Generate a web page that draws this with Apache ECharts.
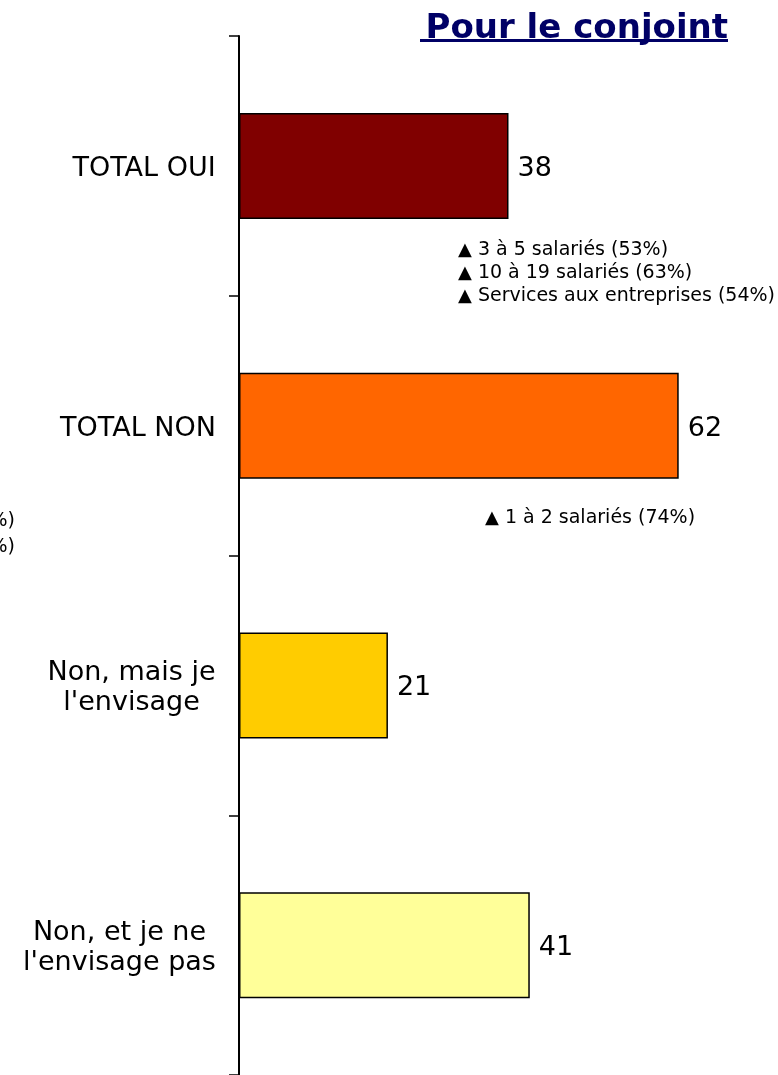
<!DOCTYPE html>
<html>
<head>
<meta charset="utf-8">
<script src="https://cdn.jsdelivr.net/npm/echarts@6/dist/echarts.min.js"></script>
<style>
  html, body { margin: 0; padding: 0; background: #fff; }
  #chart { width: 778px; height: 1075px; }
</style>
</head>
<body>
<div id="chart"></div>
<script>
// Answers for the spouse (%)
const categories = ['TOTAL OUI', 'TOTAL NON', 'Non, mais je\nl\'envisage', 'Non, et je ne\nl\'envisage pas'];
const values = [38, 62, 21, 41];
const barColors = ['#800000', '#FF6600', '#FFCC00', '#FFFF99'];

// Sub-group notes shown under the bars
const notesOui = ['3 à 5 salariés (53%)', '10 à 19 salariés (63%)', 'Services aux entreprises (54%)'];
const notesNon = ['1 à 2 salariés (74%)'];
const titleText = 'Pour le conjoint';

const FONT = '"DejaVu Sans", Verdana, sans-serif';
const LABEL_SIZE = 27;

// Measure each line so multi-line category labels can be centred inside a right-aligned block
const measureCtx = document.createElement('canvas').getContext('2d');
measureCtx.font = LABEL_SIZE + 'px ' + FONT;
const richStyles = {};
categories.forEach(function (c, i) {
  const w = Math.max.apply(null, c.split('\n').map(function (l) { return measureCtx.measureText(l).width; }));
  richStyles['c' + i] = {
    width: Math.ceil(w), align: 'center', fontSize: LABEL_SIZE,
    fontFamily: FONT, color: '#000', lineHeight: 30
  };
});

const chart = echarts.init(document.getElementById('chart'), null, { renderer: 'canvas' });

const noteStyle = {
  fontSize: 19, fontFamily: FONT, fill: '#000', lineHeight: 23,
  rich: {
    t: { fontSize: 18, fontFamily: FONT, lineHeight: 23, color: '#000' },
    s: { fontSize: 19, fontFamily: FONT, lineHeight: 23, color: '#000' }
  }
};
function noteText(lines) {
  return lines.map(function (l) { return '{t|▲}{s| ' + l + '}'; }).join('\n');
}

chart.setOption({
  animation: false,
  backgroundColor: '#fff',
  grid: { left: 239, right: 0, top: 36, bottom: 0, containLabel: false },
  xAxis: {
    type: 'value', min: 0, max: 76, show: false
  },
  yAxis: {
    type: 'category',
    inverse: true,
    data: categories,
    axisLine: { show: true, lineStyle: { color: '#000', width: 2 } },
    axisTick: { show: true, length: 10, lineStyle: { color: '#000', width: 1.5 } },
    axisLabel: {
      margin: 23,
      align: 'right',
      padding: [6, 0, 0, 0],
      formatter: function (value, idx) {
        return value.split('\n').map(function (l) { return '{c' + idx + '|' + l + '}'; }).join('\n');
      },
      rich: richStyles
    },
    splitLine: { show: false }
  },
  series: [{
    type: 'bar',
    data: values.map(function (v, i) {
      return { value: v, itemStyle: { color: barColors[i] } };
    }),
    barWidth: 106,
    itemStyle: { borderColor: '#000', borderWidth: 1.5 },
    label: {
      show: true, position: 'right', distance: 9, offset: [0, 3],
      fontSize: LABEL_SIZE, fontFamily: FONT, color: '#000'
    }
  }],
  graphic: [
    {
      type: 'text', right: 50, top: 12,
      style: { text: titleText, fontSize: 34, fontWeight: 'bold', fontFamily: FONT, fill: '#000066' }
    },
    {
      type: 'rect', shape: { x: 420, y: 39, width: 308, height: 3 },
      style: { fill: '#000066' }
    },
    {
      type: 'text', x: 458, y: 239,
      style: Object.assign({ text: noteText(notesOui) }, noteStyle)
    },
    {
      type: 'text', x: 485, y: 507,
      style: Object.assign({ text: noteText(notesNon) }, noteStyle)
    },
    {
      // tail of the notes belonging to the neighbouring panel
      type: 'text', x: 15, y: 508,
      style: { text: '%)\n%)', fontSize: 19, fontFamily: FONT, fill: '#000', lineHeight: 26, align: 'right' }
    }
  ]
});
</script>
</body>
</html>
